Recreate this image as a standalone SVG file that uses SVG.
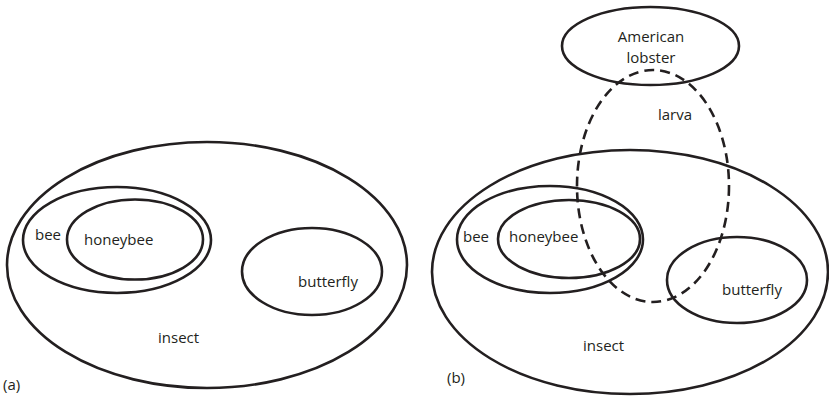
<svg xmlns="http://www.w3.org/2000/svg" width="829" height="397" viewBox="0 0 829 397">
<style>
.s{fill:none;stroke:#231f20;stroke-width:2.6}
.d{fill:none;stroke:#231f20;stroke-width:2.6;stroke-dasharray:10 6}
text{font-family:"Open Sans","Liberation Sans",sans-serif;font-size:15px;fill:#231f20}
</style>
<rect width="829" height="397" fill="#fff"/>
<g id="a-insect"><ellipse class="s" cx="207" cy="265" rx="200" ry="123"/><text x="158" y="343">insect</text></g>
<g id="a-bee"><ellipse class="s" cx="117" cy="240" rx="94" ry="53"/><text x="35" y="240">bee</text></g>
<g id="a-honeybee"><ellipse class="s" cx="135" cy="239.5" rx="68" ry="40"/><text x="84" y="245">honeybee</text></g>
<g id="a-butterfly"><ellipse class="s" cx="312" cy="271.5" rx="70" ry="43.5"/><text x="298" y="287">butterfly</text></g>
<text x="3" y="390">(a)</text>
<g id="b-insect"><ellipse class="s" cx="630" cy="272" rx="198" ry="122"/><text x="583" y="351">insect</text></g>
<g id="b-bee"><ellipse class="s" cx="550" cy="239.5" rx="93" ry="53.5"/><text x="463" y="242">bee</text></g>
<g id="b-honeybee"><ellipse class="s" cx="569" cy="239" rx="71" ry="39"/><text x="509" y="242">honeybee</text></g>
<g id="b-butterfly"><ellipse class="s" cx="737" cy="280" rx="70" ry="43"/><text x="722" y="295">butterfly</text></g>
<g id="b-lobster"><ellipse class="s" cx="650.5" cy="46" rx="88.5" ry="39"/><text x="651" y="42" text-anchor="middle">American</text><text x="651" y="63" text-anchor="middle">lobster</text></g>
<g id="b-larva"><ellipse class="d" cx="653" cy="186" rx="76" ry="116"/><text x="658" y="120">larva</text></g>
<text x="447" y="383">(b)</text>
<g id="connectors"/>
</svg>
